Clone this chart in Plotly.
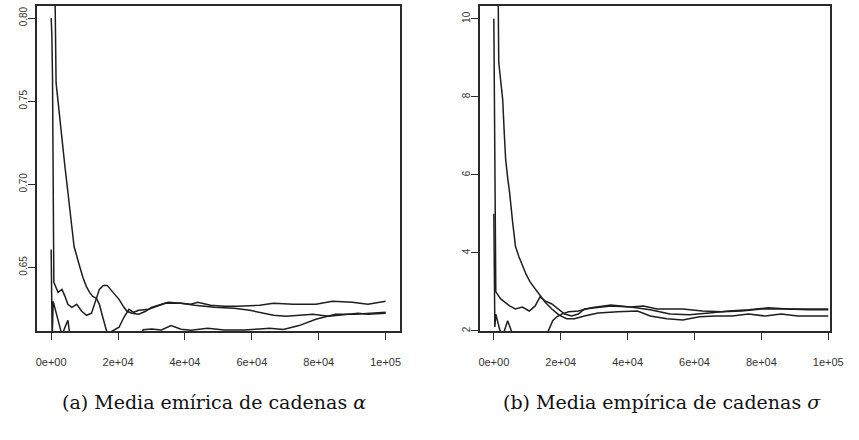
import plotly.graph_objects as go

# Running (ergodic) means of three MCMC chains, parameter alpha
alpha_c1_iter = [0, 1150, 1470, 2100, 2850, 3500, 4120, 4850, 5590, 6200, 6850, 7650, 8530, 9500,
                 10500, 11500, 12440, 13530, 14410, 15590, 16760, 17650, 19120, 20290, 21760, 23240,
                 24700, 26180, 29120, 34120, 38820, 42940, 48820, 54700, 59410, 62350, 66470, 70290,
                 73240, 78240, 82940, 87940, 91760, 94700, 100000]
alpha_c1_mean = [0.840, 0.815, 0.7610, 0.7480, 0.7370, 0.7230, 0.7106, 0.6980, 0.6866, 0.6740,
                 0.6626, 0.6560, 0.6506, 0.6440, 0.6386, 0.6350, 0.6326, 0.6314, 0.6278, 0.6188,
                 0.6104, 0.6110, 0.6128, 0.6140, 0.6200, 0.6248, 0.6230, 0.6242, 0.6248, 0.6284,
                 0.6284, 0.6272, 0.6260, 0.6254, 0.6242, 0.6230, 0.6212, 0.6206, 0.6212, 0.6218,
                 0.6206, 0.6218, 0.6224, 0.6218, 0.6224]

alpha_c2_iter = [0, 200, 400, 600, 700, 800, 2060, 3240, 4120, 5000, 6180, 7650, 9120, 10590, 12060,
                 13240, 14410, 15590, 16760, 18240, 20290, 21760, 22650, 24120, 26180, 28240, 30000,
                 32060, 35000, 38820, 41760, 43820, 47650, 51760, 55590, 62350, 66470, 72350, 79120,
                 84120, 90000, 94700, 100000]
alpha_c2_mean = [0.800, 0.790, 0.765, 0.700, 0.655, 0.641, 0.6350, 0.6368, 0.6326, 0.6278, 0.6260,
                 0.6278, 0.6236, 0.6212, 0.6224, 0.6296, 0.6368, 0.6392, 0.6392, 0.6356, 0.6308, 0.6260,
                 0.6236, 0.6224, 0.6218, 0.6236, 0.6260, 0.6272, 0.6290, 0.6284, 0.6278, 0.6290, 0.6272,
                 0.6266, 0.6266, 0.6272, 0.6284, 0.6278, 0.6278, 0.6296, 0.6290, 0.6278, 0.6296]

alpha_c3_iter = [0, 150, 300, 600, 2060, 3240, 4120, 5000, 5590, 8000, 15000, 22000, 26500, 27500,
                 30000, 32940, 35880, 38820, 41760, 46760, 51760, 57650, 62350, 65290, 69410, 74120,
                 79120, 85000, 90880, 100000]
alpha_c3_mean = [0.6608, 0.6250, 0.6060, 0.6296, 0.6188, 0.6092, 0.6140, 0.6182, 0.6092, 0.6000,
                 0.5960, 0.6000, 0.6060, 0.6125, 0.6130, 0.6124, 0.6150, 0.6128, 0.6122, 0.6134,
                 0.6124, 0.6124, 0.6130, 0.6134, 0.6126, 0.6150, 0.6188, 0.6218, 0.6218, 0.6230]

# Running means of three MCMC chains, parameter sigma
sigma_c1_iter = [0, 1300, 1470, 2000, 2650, 3100, 3530, 4100, 4710, 5600, 6470, 7500, 8530, 9700,
                 10880, 12300, 13820, 15290, 17350, 19410, 21760, 24120, 27060, 31180, 37060, 42940,
                 46760, 51760, 56470, 61470, 66470, 71180, 76180, 81180, 85880, 90880, 100000]
sigma_c1_mean = [11.2, 10.6, 8.88, 8.40, 7.93, 7.10, 6.40, 5.95, 5.55, 4.80, 4.17, 3.90, 3.66, 3.44,
                 3.25, 3.08, 2.92, 2.74, 2.56, 2.41, 2.31, 2.31, 2.38, 2.46, 2.49, 2.51, 2.38, 2.31,
                 2.28, 2.36, 2.38, 2.38, 2.43, 2.38, 2.43, 2.38, 2.38]

sigma_c2_iter = [0, 100, 200, 300, 400, 500, 590, 2060, 3240, 4710, 6470, 8530, 10590, 12350, 13820,
                 15290, 17350, 19410, 21180, 23240, 25290, 27060, 32060, 35000, 40880, 44710, 48820,
                 56470, 62350, 68240, 74120, 80000, 85880, 90880, 100000]
sigma_c2_mean = [10.0, 8.7, 7.5, 5.0, 3.9, 3.2, 3.0, 2.82, 2.74, 2.64, 2.56, 2.61, 2.51, 2.64, 2.87,
                 2.77, 2.69, 2.56, 2.43, 2.38, 2.43, 2.56, 2.61, 2.64, 2.61, 2.64, 2.56, 2.56, 2.51,
                 2.49, 2.51, 2.56, 2.56, 2.56, 2.56]

sigma_c3_iter = [0, 150, 300, 590, 1760, 2650, 4120, 5590, 6180, 10000, 14000, 16300, 17600, 18820,
                 20290, 22350, 25290, 29120, 35000, 40880, 46760, 52650, 58530, 64410, 70290, 76180,
                 82060, 87940, 93820, 100000]
sigma_c3_mean = [5.0, 3.0, 2.1, 2.43, 2.03, 1.87, 2.26, 1.92, 1.80, 1.6, 1.7, 2.0, 2.26, 2.36, 2.43,
                 2.49, 2.51, 2.59, 2.66, 2.61, 2.54, 2.43, 2.41, 2.46, 2.51, 2.54, 2.59, 2.56, 2.54,
                 2.54]

x_tickvals = [0, 20000, 40000, 60000, 80000, 100000]
x_ticktext = ["0e+00", "2e+04", "4e+04", "6e+04", "8e+04", "1e+05"]
alpha_ticks = [0.65, 0.70, 0.75, 0.80]
alpha_ticktext = ["0.65", "0.70", "0.75", "0.80"]
sigma_ticks = [2, 4, 6, 8, 10]
sigma_ticktext = ["2", "4", "6", "8", "10"]

caption_a = "(a) Media emírica de cadenas <i>α</i>"
caption_b = "(b) Media empírica de cadenas <i>σ</i>"

W, H = 859, 440
LINE = dict(color="#1e1e1e", width=1.5)
AXC = "#2a2a2a"

fig = go.Figure()
for it, m in [(alpha_c1_iter, alpha_c1_mean), (alpha_c2_iter, alpha_c2_mean), (alpha_c3_iter, alpha_c3_mean)]:
    fig.add_trace(go.Scatter(x=it, y=m, mode="lines", line=LINE, xaxis="x", yaxis="y", hoverinfo="skip"))
for it, m in [(sigma_c1_iter, sigma_c1_mean), (sigma_c2_iter, sigma_c2_mean), (sigma_c3_iter, sigma_c3_mean)]:
    fig.add_trace(go.Scatter(x=it, y=m, mode="lines", line=LINE, xaxis="x2", yaxis="y2", hoverinfo="skip"))


def xaxis(domain, rng, anchor):
    return dict(domain=domain, range=rng, anchor=anchor, tickvals=x_tickvals, ticktext=x_ticktext,
                ticks="outside", ticklen=7, tickwidth=1, tickcolor=AXC, showline=True, mirror=True,
                linewidth=2, linecolor=AXC, showgrid=False, zeroline=False, ticklabelstandoff=13,
                tickfont=dict(family="Liberation Sans, Arial, sans-serif", size=11, color="#333"))


def yaxis(domain, rng, anchor, vals, text):
    return dict(domain=domain, range=rng, anchor=anchor, tickvals=vals, ticktext=text, tickangle=-90,
                ticks="outside", ticklen=7, tickwidth=1, tickcolor=AXC, showline=True, mirror=True,
                linewidth=2, linecolor=AXC, showgrid=False, zeroline=False, ticklabelstandoff=-3,
                tickfont=dict(family="Liberation Sans, Arial, sans-serif", size=10, color="#333"))


ydom = [1 - 332 / H, 1 - 6 / H]
CAPFONT = dict(family="DejaVu Serif, Liberation Serif, serif", size=19, color="#111")
fig.update_layout(
    width=W, height=H, margin=dict(l=0, r=0, t=0, b=0),
    paper_bgcolor="white", plot_bgcolor="white", showlegend=False,
    xaxis=xaxis([37 / W, 406 / W], [-4118, 104410], "y"),
    yaxis=yaxis(ydom, [0.6116, 0.8073], "x", alpha_ticks, alpha_ticktext),
    xaxis2=xaxis([487 / W, 843 / W], [-4118, 100590], "y2"),
    yaxis2=yaxis(ydom, [1.99, 10.33], "x2", sigma_ticks, sigma_ticktext),
    annotations=[
        dict(text=caption_a, x=217 / W, y=1 - 403 / H, xref="paper", yref="paper", showarrow=False,
             xanchor="center", yanchor="middle", font=CAPFONT),
        dict(text=caption_b, x=672 / W, y=1 - 403 / H, xref="paper", yref="paper", showarrow=False,
             xanchor="center", yanchor="middle", font=CAPFONT),
    ],
)

fig.write_html("out.html")
